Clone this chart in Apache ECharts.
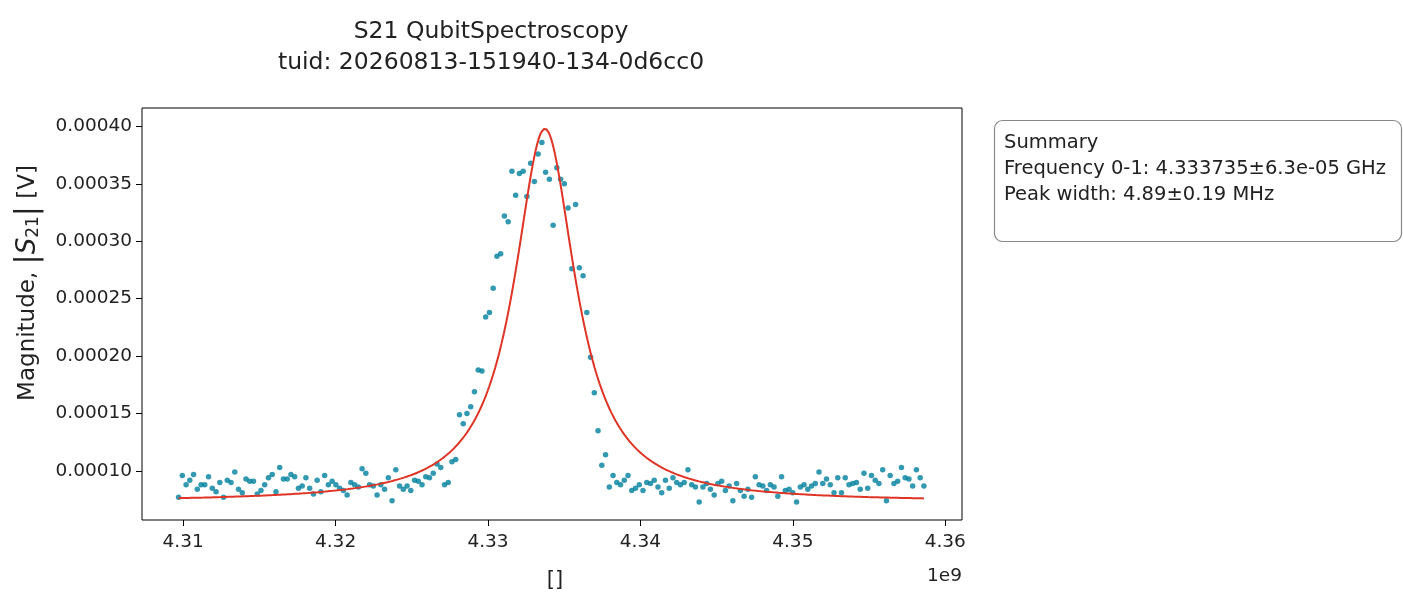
<!DOCTYPE html>
<html>
<head>
<meta charset="utf-8">
<script src="https://cdn.jsdelivr.net/npm/echarts@6/dist/echarts.min.js"></script>
<style>
  html, body { margin: 0; padding: 0; background: #fff; }
  #chart { width: 1403px; height: 604px; }
</style>
</head>
<body>
<div id="chart"></div>
<script>
// measured |S21| in microvolts, one value per frequency step
const magnitudeUV = [
  77, 96, 88, 92, 97, 84, 88, 88, 95, 85, 82, 90, 77, 92, 90, 99, 84, 81, 93, 91,
  91, 80, 83, 88, 94, 97, 82, 103, 93, 93, 97, 95, 85, 87, 94, 85, 80, 92, 82, 96,
  88, 91, 88, 85, 83, 79, 90, 88, 86, 102, 98, 88, 87, 79, 88, 84, 94, 74, 101, 87,
  84, 87, 83, 92, 91, 88, 95, 94, 98, 106, 103, 88, 90, 108, 110,
  149, 141, 150, 156, 169, 188, 187, 234, 238, 259, 287, 289, 322, 317, 361, 340, 359, 361, 339, 368,
  352, 376, 386, 360, 354, 314, 364, 354, 350, 329, 276, 332, 277, 270, 238, 199, 168, 135, 105, 114,
  86, 96, 90,
  88, 92, 96, 83, 85, 88, 83, 90, 89, 92, 86, 81, 92, 85, 94, 90, 88, 90, 101, 88,
  86, 73, 86, 89, 84, 79, 89, 91, 83, 87, 74, 89, 83, 78, 84, 77, 95, 88, 87, 83,
  88, 86, 78, 95, 83, 84, 81, 73, 86, 88, 84, 87, 89, 99, 89, 93, 88, 81, 94, 81,
  94, 88, 89, 90, 84, 98, 85, 96, 92, 89, 101, 74, 96, 89, 91, 103, 94, 93, 87, 101,
  94, 87
];
const fStart = 4.3097, fStop = 4.3586; // GHz
const n = magnitudeUV.length;
const points = magnitudeUV.map((v, i) => [fStart + (fStop - fStart) * i / (n - 1), v * 1e-6]);

// Lorentzian fit result
const fit = { f0: 4.333735, width: 0.00489, amp: 325e-6, offset: 73e-6 };
const fitLine = [];
for (let i = 0; i <= 600; i++) {
  const f = fStart + (fStop - fStart) * i / 600;
  const d = (f - fit.f0) / (fit.width / 2);
  fitLine.push([f, fit.amp / (1 + d * d) + fit.offset]);
}

const font = 'DejaVu Sans';
const xTicks = [4.31, 4.32, 4.33, 4.34, 4.35, 4.36];
const yTicks = [1e-4, 1.5e-4, 2e-4, 2.5e-4, 3e-4, 3.5e-4, 4e-4];
const chart = echarts.init(document.getElementById('chart'));
chart.setOption({
  backgroundColor: '#ffffff',
  animation: false,
  title: {
    text: 'S21 QubitSpectroscopy\ntuid: 20260813-151940-134-0d6cc0',
    left: 486, top: 11, textAlign: 'center',
    textStyle: { fontFamily: font, fontWeight: 'normal', fontSize: 23.5, color: '#222', lineHeight: 31 }
  },
  grid: { left: 142, right: 441, top: 108, bottom: 84, show: true, borderColor: '#000', borderWidth: 1 },
  xAxis: {
    type: 'value', min: 4.3073, max: 4.3611,
    axisLine: { show: false },
    splitLine: { show: false },
    axisTick: { show: true, length: 6, customValues: xTicks, lineStyle: { color: '#000' } },
    axisLabel: {
      customValues: xTicks, margin: 13,
      formatter: v => v.toFixed(2),
      fontFamily: font, fontSize: 18.5, color: '#222'
    }
  },
  yAxis: {
    type: 'value', min: 57.3e-6, max: 416e-6,
    axisLine: { show: false },
    splitLine: { show: false },
    axisTick: { show: true, length: 6, customValues: yTicks, lineStyle: { color: '#000' } },
    axisLabel: {
      customValues: yTicks, margin: 10,
      formatter: v => v.toFixed(5),
      fontFamily: font, fontSize: 18.5, color: '#222'
    }
  },
  series: [
    {
      name: 'data', type: 'scatter', data: points, symbolSize: 5.5,
      itemStyle: { color: '#00809e' }, z: 2
    },
    {
      name: 'fit', type: 'line', data: fitLine, showSymbol: false,
      lineStyle: { color: '#e03426', width: 2 }, z: 3
    }
  ],
  graphic: [
    {
      type: 'text', x: 28, y: 283, rotation: Math.PI / 2, z: 10,
      style: {
        text: 'Magnitude, {b||}{s|S}{sub|21}{b||} [V]',
        fontFamily: font, fontSize: 23, fill: '#222',
        align: 'center', verticalAlign: 'middle',
        rich: {
          b: { fontSize: 30, fontFamily: font, fill: '#222' },
          s: { fontSize: 26, fontStyle: 'italic', fontFamily: font, fill: '#222' },
          sub: { fontSize: 17, fontFamily: font, fill: '#222', padding: [11, 0, 0, 0] }
        }
      }
    },
    {
      type: 'text', x: 555, y: 581,
      style: { text: '[]', fontFamily: font, fontSize: 21, fill: '#222', align: 'center', verticalAlign: 'middle' }
    },
    {
      type: 'text', x: 962, y: 576,
      style: { text: '1e9', fontFamily: font, fontSize: 18.5, fill: '#222', align: 'right', verticalAlign: 'middle' }
    },
    {
      type: 'rect', shape: { x: 994.5, y: 120.5, width: 407, height: 121, r: 8 },
      style: { fill: '#fff', stroke: '#888', lineWidth: 1.2 }
    },
    {
      type: 'text', x: 1004, y: 130,
      style: {
        text: 'Summary\nFrequency 0-1: 4.333735±6.3e-05 GHz\nPeak width: 4.89±0.19 MHz',
        fontFamily: font, fontSize: 19.5, lineHeight: 26, fill: '#222'
      }
    }
  ]
});
</script>
</body>
</html>
